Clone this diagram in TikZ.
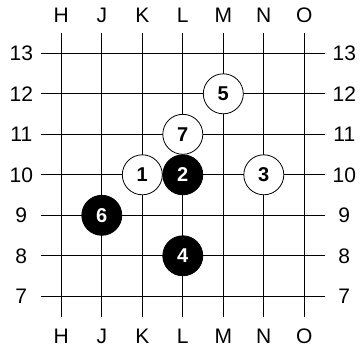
\documentclass[tikz,border=0pt]{standalone}
\usepackage{fontspec}
\setmainfont{Liberation Sans}
\usetikzlibrary{positioning}
\begin{document}
\begin{tikzpicture}[x=1pt, y=-1pt,
    lbl/.style={font=\fontsize{21}{24}\selectfont, inner sep=0pt},
    stone/.style={circle, draw=black, line width=0.8pt, minimum size=40pt, inner sep=0pt, font=\fontsize{20}{24}\selectfont\bfseries},
    wst/.style={stone, fill=white, text=black},
    bst/.style={stone, fill=black, text=white},
    gridline/.style={line width=0.8pt, black}
  ]
    \useasboundingbox (0,0) rectangle (360,354);

    % Board points
    \foreach \c [count=\i from 0] in {H,J,K,L,M,N,O}
      \foreach \r in {7,...,13}
        \coordinate (\c\r) at ({61.3+40.5*\i},{53.3+40.5*(13-\r)});

    % Grid
    \foreach \r in {7,...,13} {
      \draw[gridline] ([xshift=-20.3pt]H\r) -- ([xshift=20.3pt]O\r);
      \node[lbl] (left\r) at ([xshift=-40pt]H\r) {\r};
      \node[lbl] (right\r) at ([xshift=40pt]O\r) {\r};
    }
    \foreach \c in {H,J,K,L,M,N,O} {
      \draw[gridline] ([yshift=20.3pt]\c13) -- ([yshift=-20.3pt]\c7);
      \node[lbl] (top\c) at ([yshift=38.3pt]\c13) {\c};
      \node[lbl] (bot\c) at ([yshift=-39.7pt]\c7) {\c};
    }

    % Stones
    \node[wst] (s1) at (K10) {1};
    \node[bst] (s2) at (L10) {2};
    \node[wst] (s3) at (N10) {3};
    \node[bst] (s4) at (L8) {4};
    \node[wst] (s5) at (M12) {5};
    \node[bst] (s6) at (J9) {6};
    \node[wst] (s7) at (L11) {7};
  \end{tikzpicture}
\end{document}
